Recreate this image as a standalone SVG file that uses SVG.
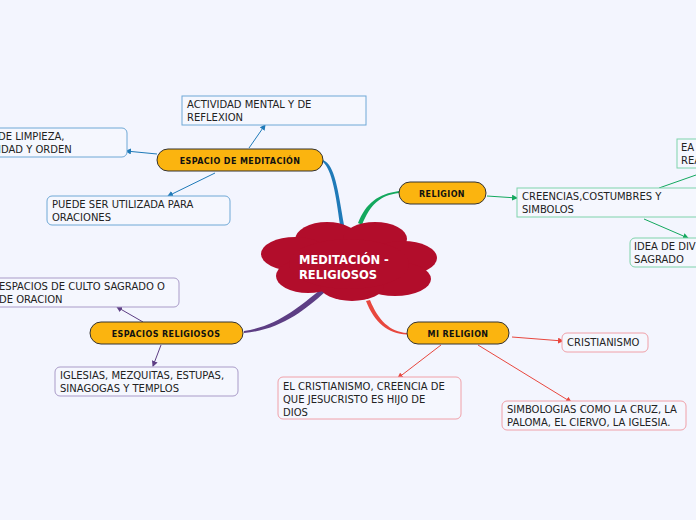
<svg xmlns="http://www.w3.org/2000/svg" width="696" height="520" viewBox="0 0 696 520">
<style>
text{font-family:"DejaVu Sans",Verdana,sans-serif;font-size:10px;fill:#222}
.t{font-weight:bold;font-size:8px;fill:#111;text-anchor:middle;letter-spacing:0.4px}
.topic{fill:#fbb40f;stroke:#333;stroke-width:1}
.c{font-weight:bold;font-size:11.5px;fill:#fff}
.box{fill:#f5f7fe;stroke-width:1}
.b{stroke:#6fa8d6}.g{stroke:#7fd3ab}.r{stroke:#f0a0a8}.p{stroke:#a99bc8}
.l{fill:none;stroke-width:1}
</style>
<defs>
<marker id="mb" markerWidth="6" markerHeight="6" refX="5" refY="3" orient="auto"><path d="M0,0L6,3L0,6z" fill="#1f7ab8"/></marker>
<marker id="mg" markerWidth="6" markerHeight="6" refX="5" refY="3" orient="auto"><path d="M0,0L6,3L0,6z" fill="#13a85e"/></marker>
<marker id="mr" markerWidth="6" markerHeight="6" refX="5" refY="3" orient="auto"><path d="M0,0L6,3L0,6z" fill="#e8473e"/></marker>
<marker id="mp" markerWidth="6" markerHeight="6" refX="5" refY="3" orient="auto"><path d="M0,0L6,3L0,6z" fill="#5d3e84"/></marker>
</defs>
<rect width="696" height="520" fill="#f3f5fe"/>
<g id="connectors">
<path d="M323,160 C335,165 338,190 344,225 L340,225 C336,195 332,170 323,162z" fill="#1f7ab8"/>
<path d="M399,193 C380,195 370,205 362,225 L358,223 C366,203 378,194 399,191z" fill="#13a85e"/>
<path d="M244,333 C280,330 305,310 325,292 L320,290 C300,306 278,326 244,331z" fill="#5d3e84"/>
<path d="M407,333 C390,332 378,320 370,300 L366,301 C374,322 388,334 407,334.5z" fill="#e8473e"/>
<path d="M249,148 L265,125" class="l" stroke="#1f7ab8" marker-end="url(#mb)"/>
<path d="M157,154 L126,151" class="l" stroke="#1f7ab8" marker-end="url(#mb)"/>
<path d="M215,173 L168,196" class="l" stroke="#1f7ab8" marker-end="url(#mb)"/>
<path d="M487,196 L517,198" class="l" stroke="#13a85e" marker-end="url(#mg)"/>
<path d="M659,188 L696,175" class="l" stroke="#13a85e"/>
<path d="M644,219 L688,238" class="l" stroke="#13a85e" marker-end="url(#mg)"/>
<path d="M143,322 L117,307" class="l" stroke="#5d3e84" marker-end="url(#mp)"/>
<path d="M161,345 L153,366" class="l" stroke="#5d3e84" marker-end="url(#mp)"/>
<path d="M512,337 L563,341" class="l" stroke="#e8473e" marker-end="url(#mr)"/>
<path d="M441,345 L398,378" class="l" stroke="#e8473e" marker-end="url(#mr)"/>
<path d="M478,345 L571,402" class="l" stroke="#e8473e" marker-end="url(#mr)"/>
</g>
<g id="center">
<g fill="#b20d2b">
<ellipse cx="327" cy="240" rx="32" ry="18"/><ellipse cx="375" cy="239" rx="32" ry="17"/>
<ellipse cx="295" cy="254" rx="34" ry="17"/><ellipse cx="403" cy="258" rx="34" ry="17"/>
<ellipse cx="308" cy="276" rx="32" ry="17"/><ellipse cx="395" cy="279" rx="36" ry="17"/>
<ellipse cx="352" cy="286" rx="32" ry="15"/><ellipse cx="349" cy="264" rx="60" ry="25"/>
</g>
<text class="c" x="299" y="264">MEDITACIÓN -</text><text class="c" x="299" y="279">RELIGIOSOS</text>
</g>
<g id="espacio-meditacion"><rect class="topic" x="157" y="149" width="166" height="22" rx="11"/><text class="t" x="240" y="164">ESPACIO DE MEDITACIÓN</text></g>
<g id="actividad"><rect class="box b" x="182" y="96" width="184" height="29"/><text x="187" y="108">ACTIVIDAD MENTAL Y DE</text><text x="187" y="121">REFLEXION</text></g>
<g id="limpieza"><rect class="box b" x="-10" y="128" width="137" height="29" rx="5"/><text x="-2" y="140">DE LIMPIEZA,</text><text x="-2" y="153">IDAD Y ORDEN</text></g>
<g id="puede"><rect class="box b" x="47" y="196" width="183" height="29" rx="5"/><text x="52" y="208">PUEDE SER UTILIZADA PARA</text><text x="52" y="221">ORACIONES</text></g>
<g id="religion"><rect class="topic" x="399" y="182" width="87" height="22" rx="11"/><text class="t" x="442" y="197">RELIGION</text></g>
<g id="creencias"><rect class="box g" x="517" y="188" width="185" height="29"/><text x="522" y="200">CREENCIAS,COSTUMBRES Y</text><text x="522" y="213">SIMBOLOS</text></g>
<g id="ea"><rect class="box g" x="677" y="139" width="30" height="29"/><text x="681" y="151">EA</text><text x="681" y="164">REA</text></g>
<g id="idea"><rect class="box g" x="630" y="238" width="76" height="29" rx="5"/><text x="634" y="250">IDEA DE DIV</text><text x="634" y="263">SAGRADO</text></g>
<g id="espacios-religiosos"><rect class="topic" x="90" y="322" width="153" height="22" rx="11"/><text class="t" x="166" y="337">ESPACIOS RELIGIOSOS</text></g>
<g id="espacios-culto"><rect class="box p" x="-10" y="278" width="189" height="29" rx="5"/><text x="-1" y="290">ESPACIOS DE CULTO SAGRADO O</text><text x="-1" y="303">DE ORACION</text></g>
<g id="iglesias"><rect class="box p" x="55" y="367" width="183" height="29" rx="5"/><text x="60" y="379">IGLESIAS, MEZQUITAS, ESTUPAS,</text><text x="60" y="392">SINAGOGAS Y TEMPLOS</text></g>
<g id="mi-religion"><rect class="topic" x="407" y="322" width="102" height="22" rx="11"/><text class="t" x="458" y="337">MI RELIGION</text></g>
<g id="cristianismo"><rect class="box r" x="562" y="333" width="86" height="19" rx="5"/><text x="567" y="346">CRISTIANISMO</text></g>
<g id="el-cristianismo"><rect class="box r" x="278" y="377" width="183" height="42" rx="5"/><text x="283" y="390">EL CRISTIANISMO, CREENCIA DE</text><text x="283" y="403">QUE JESUCRISTO ES HIJO DE</text><text x="283" y="416">DIOS</text></g>
<g id="simbologias"><rect class="box r" x="502" y="401" width="184" height="29" rx="5"/><text x="507" y="413">SIMBOLOGIAS COMO LA CRUZ, LA</text><text x="507" y="426">PALOMA, EL CIERVO, LA IGLESIA.</text></g>
</svg>
